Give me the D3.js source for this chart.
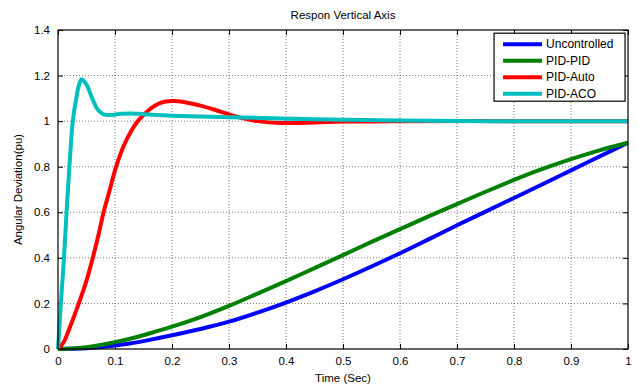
<!DOCTYPE html>
<html>
<head>
<meta charset="utf-8">
<script src="https://cdn.jsdelivr.net/npm/d3@7"></script>
<style>
  body { margin: 0; background: #fff; }
  text { font-family: "Liberation Sans", Arial, sans-serif; }
</style>
</head>
<body>
<svg id="chart" width="638" height="385"></svg>
<script>
// values
const seriesNames = ['Uncontrolled', 'PID-PID', 'PID-Auto', 'PID-ACO'];
const seriesColors = ['#0000ff', '#008000', '#ff0000', '#00bfbf'];

const tUncontrolled = [0, 0.05, 0.1, 0.126, 0.161, 0.2, 0.25, 0.3, 0.35, 0.4, 0.45, 0.5, 0.55, 0.6, 0.65, 0.7, 0.75, 0.8, 0.85, 0.9, 0.95, 1];
const yUncontrolled = [0, 0.003, 0.015, 0.024, 0.04, 0.06, 0.088, 0.12, 0.16, 0.204, 0.253, 0.306, 0.362, 0.42, 0.481, 0.543, 0.603, 0.663, 0.723, 0.784, 0.845, 0.905];

const tPidPid = [0, 0.05, 0.1, 0.13, 0.16, 0.2, 0.25, 0.3, 0.35, 0.4, 0.45, 0.5, 0.55, 0.6, 0.65, 0.7, 0.75, 0.8, 0.85, 0.9, 0.95, 1];
const yPidPid = [0, 0.008, 0.03, 0.047, 0.068, 0.098, 0.14, 0.189, 0.243, 0.298, 0.355, 0.412, 0.47, 0.526, 0.582, 0.636, 0.69, 0.742, 0.79, 0.833, 0.872, 0.905];

const tPidAuto = [0, 0.01, 0.02, 0.0365, 0.05, 0.061, 0.071, 0.08, 0.091, 0.102, 0.115, 0.128, 0.14, 0.16, 0.18, 0.2, 0.225, 0.25, 0.275, 0.3, 0.325, 0.35, 0.39, 0.45, 0.5, 0.6, 0.8, 1];
const yPidAuto = [0, 0.03, 0.09, 0.2, 0.3, 0.4, 0.5, 0.6, 0.7, 0.8, 0.89, 0.955, 1.0, 1.05, 1.08, 1.088, 1.082, 1.068, 1.05, 1.03, 1.012, 1.0, 0.992, 0.994, 0.998, 1.0, 1.0, 1.0];

const tPidAco = [0, 0.005, 0.0105, 0.015, 0.02, 0.026, 0.032, 0.037, 0.0415, 0.05, 0.06, 0.07, 0.08, 0.09, 0.11, 0.13, 0.15, 0.2, 0.25, 0.3, 0.39, 0.5, 0.6, 0.75, 1];
const yPidAco = [0, 0.2, 0.4, 0.6, 0.8, 1.0, 1.1, 1.16, 1.184, 1.16, 1.1, 1.05, 1.03, 1.027, 1.032, 1.034, 1.03, 1.024, 1.02, 1.017, 1.012, 1.006, 1.003, 1.0, 1.0];

const xTicks = [0, 0.1, 0.2, 0.3, 0.4, 0.5, 0.6, 0.7, 0.8, 0.9, 1];
const yTicks = [0, 0.2, 0.4, 0.6, 0.8, 1, 1.2, 1.4];

const series = [
  {t: tUncontrolled, y: yUncontrolled},
  {t: tPidPid, y: yPidPid},
  {t: tPidAuto, y: yPidAuto},
  {t: tPidAco, y: yPidAco}
].map((s, i) => ({
  name: seriesNames[i],
  color: seriesColors[i],
  points: s.t.map((t, j) => [t, s.y[j]])
}));

const margin = {top: 30, right: 10, bottom: 36, left: 58};
const width = 638 - margin.left - margin.right;
const height = 385 - margin.top - margin.bottom;

const svg = d3.select('#chart');
const g = svg.append('g').attr('transform', `translate(${margin.left},${margin.top})`);

const x = d3.scaleLinear().domain([0, 1]).range([0, width]);
const y = d3.scaleLinear().domain([0, 1.4]).range([height, 0]);

// grid
g.append('g')
  .selectAll('line')
  .data(xTicks.slice(1, -1))
  .join('line')
  .attr('x1', d => x(d)).attr('x2', d => x(d))
  .attr('y1', 0).attr('y2', height)
  .attr('stroke', '#555').attr('stroke-width', 0.8)
  .attr('stroke-dasharray', '1,2');
g.append('g')
  .selectAll('line')
  .data(yTicks.slice(1, -1))
  .join('line')
  .attr('y1', d => y(d)).attr('y2', d => y(d))
  .attr('x1', 0).attr('x2', width)
  .attr('stroke', '#555').attr('stroke-width', 0.8)
  .attr('stroke-dasharray', '1,2');

// axes with inward ticks
const fmt = d => d3.format('~g')(d);
const xAxis = g.append('g').attr('transform', `translate(0,${height})`)
  .call(d3.axisBottom(x).tickValues(xTicks).tickFormat(fmt).tickSizeInner(-5).tickSizeOuter(0).tickPadding(8));
const yAxis = g.append('g')
  .call(d3.axisLeft(y).tickValues(yTicks).tickFormat(fmt).tickSizeInner(-5).tickSizeOuter(0).tickPadding(8));
g.append('g')
  .call(d3.axisTop(x).tickValues(xTicks).tickFormat('').tickSizeInner(-5).tickSizeOuter(0));
g.append('g').attr('transform', `translate(${width},0)`)
  .call(d3.axisRight(y).tickValues(yTicks).tickFormat('').tickSizeInner(-5).tickSizeOuter(0));

svg.selectAll('.domain').remove();
svg.selectAll('.tick line').attr('stroke', '#000');
[xAxis, yAxis].forEach(a => a.selectAll('text').attr('font-size', 11.5).attr('fill', '#000')
  .style('font-family', '"Liberation Sans", Arial, sans-serif'));

// lines
const line = d3.line()
  .x(d => x(d[0]))
  .y(d => y(d[1]))
  .curve(d3.curveCatmullRom.alpha(0.5));

g.append('g')
  .selectAll('path')
  .data(series)
  .join('path')
  .attr('d', d => line(d.points))
  .attr('fill', 'none')
  .attr('stroke', d => d.color)
  .attr('stroke-width', 4)
  .attr('stroke-linejoin', 'round');

// frame
g.append('rect')
  .attr('width', width).attr('height', height)
  .attr('fill', 'none').attr('stroke', '#000').attr('stroke-width', 1.2);

// title and labels
svg.append('text')
  .attr('x', margin.left + width / 2).attr('y', 19)
  .attr('text-anchor', 'middle').attr('font-size', 11.5)
  .text('Respon Vertical Axis');
svg.append('text')
  .attr('x', margin.left + width / 2).attr('y', 382)
  .attr('text-anchor', 'middle').attr('font-size', 11.5)
  .text('Time (Sec)');
svg.append('text')
  .attr('transform', `translate(22,${margin.top + height / 2}) rotate(-90)`)
  .attr('text-anchor', 'middle').attr('font-size', 11.5)
  .text('Angular Deviation(pu)');

// legend
const legend = g.append('g').attr('transform', `translate(${x(0.765)},${y(1.386)})`);
legend.append('rect')
  .attr('width', 131).attr('height', 68)
  .attr('fill', '#fff').attr('stroke', '#000').attr('stroke-width', 1.2);
const item = legend.selectAll('g.item')
  .data(series)
  .join('g')
  .attr('class', 'item')
  .attr('transform', (d, i) => `translate(0,${11 + i * 16.5})`);
item.append('line')
  .attr('x1', 9).attr('x2', 48)
  .attr('stroke', d => d.color).attr('stroke-width', 4);
item.append('text')
  .attr('x', 52).attr('dy', '0.35em')
  .attr('font-size', 12)
  .text(d => d.name);
</script>
</body>
</html>
